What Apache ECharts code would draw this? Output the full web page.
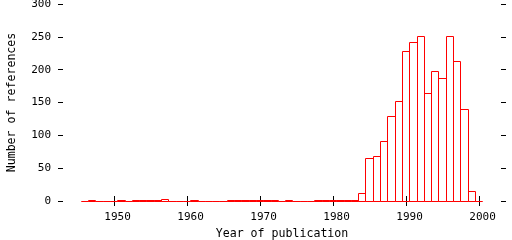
<!DOCTYPE html>
<html>
<head>
<meta charset="utf-8">
<script src="https://cdn.jsdelivr.net/npm/echarts@6/dist/echarts.min.js"></script>
<style>html,body{margin:0;padding:0;background:#fff;}#c{width:512px;height:240px;}</style>
</head>
<body>
<div id="c"></div>
<script>
var years = [1946,1947,1948,1949,1950,1951,1952,1953,1954,1955,1956,1957,1958,1959,1960,1961,1962,1963,1964,1965,1966,1967,1968,1969,1970,1971,1972,1973,1974,1975,1976,1977,1978,1979,1980,1981,1982,1983,1984,1985,1986,1987,1988,1989,1990,1991,1992,1993,1994,1995,1996,1997,1998,1999,2000];
var counts = [0,1,0,0,0,1,0,1,1,1,1,3,0,0,0,1,0,0,0,0,1,1,1,1,1,1,1,0,1,0,0,0,1,1,1,1,1,1,12,65,68,91,128,152,228,241,251,163,197,186,251,213,139,14,0];
var xTicks = [1950,1960,1970,1980,1990,2000];
var yTicks = [0,50,100,150,200,250,300];

var data = years.map(function(y,i){return [y, counts[i]];});
var font = 'DejaVu Sans Mono';
var chart = echarts.init(document.getElementById('c'), null, {renderer:'canvas'});
function px(v){return Math.round(v - 0.5) + 0.5;}
function plain(v){return String(v);}
chart.setOption({
  animation:false,
  backgroundColor:'#fff',
  grid:{left:63, top:4, width:438, height:197, containLabel:false, outerBoundsMode:'none'},
  xAxis:[{
    type:'value', position:'bottom', min:1943, max:2003, offset:1,
    axisLine:{show:false}, splitLine:{show:false},
    axisTick:{show:true, length:5, inside:false, customValues:xTicks, lineStyle:{color:'#000',width:1}},
    axisLabel:{show:true, customValues:xTicks, formatter:plain, margin:10, color:'#000', fontFamily:font, fontSize:11, padding:[0,0,0,7]},
    name:'Year of publication', nameLocation:'middle', nameGap:25,
    nameTextStyle:{color:'#000', fontFamily:font, fontSize:11.6}
  },{
    type:'value', position:'top', min:1943, max:2003,
    axisLine:{show:false}, splitLine:{show:false},
    axisTick:{show:true, length:5, inside:false, customValues:xTicks, lineStyle:{color:'#000',width:1}},
    axisLabel:{show:false}
  }],
  yAxis:[{
    type:'value', position:'left', min:0, max:300, interval:50,
    axisLine:{show:false}, splitLine:{show:false},
    axisTick:{show:true, length:5, inside:false, customValues:yTicks, lineStyle:{color:'#000',width:1}},
    axisLabel:{show:true, customValues:yTicks, formatter:plain, margin:12, color:'#000', fontFamily:font, fontSize:11},
    name:'Number of references', nameLocation:'middle', nameGap:45,
    nameTextStyle:{color:'#000', fontFamily:font, fontSize:11.6}
  },{
    type:'value', position:'right', min:0, max:300, interval:50,
    axisLine:{show:false}, splitLine:{show:false},
    axisTick:{show:true, length:5, inside:false, customValues:yTicks, lineStyle:{color:'#000',width:1}},
    axisLabel:{show:false}
  }],
  series:[{
    type:'custom',
    xAxisIndex:0, yAxisIndex:0,
    data:data,
    clip:false,
    renderItem:function(params, api){
      var y = api.value(0), v = api.value(1);
      var a = api.coord([y-0.5, 0]);
      var b = api.coord([y+0.5, v]);
      var l = px(a[0]), r = px(b[0]), bot = px(a[1]), top = px(b[1]);
      return {
        type:'polygon',
        shape:{points:[[l,bot],[l,top],[r,top],[r,bot]]},
        style:{fill:'none', stroke:'#ff0000', lineWidth:1}
      };
    }
  }]
});
</script>
</body>
</html>
